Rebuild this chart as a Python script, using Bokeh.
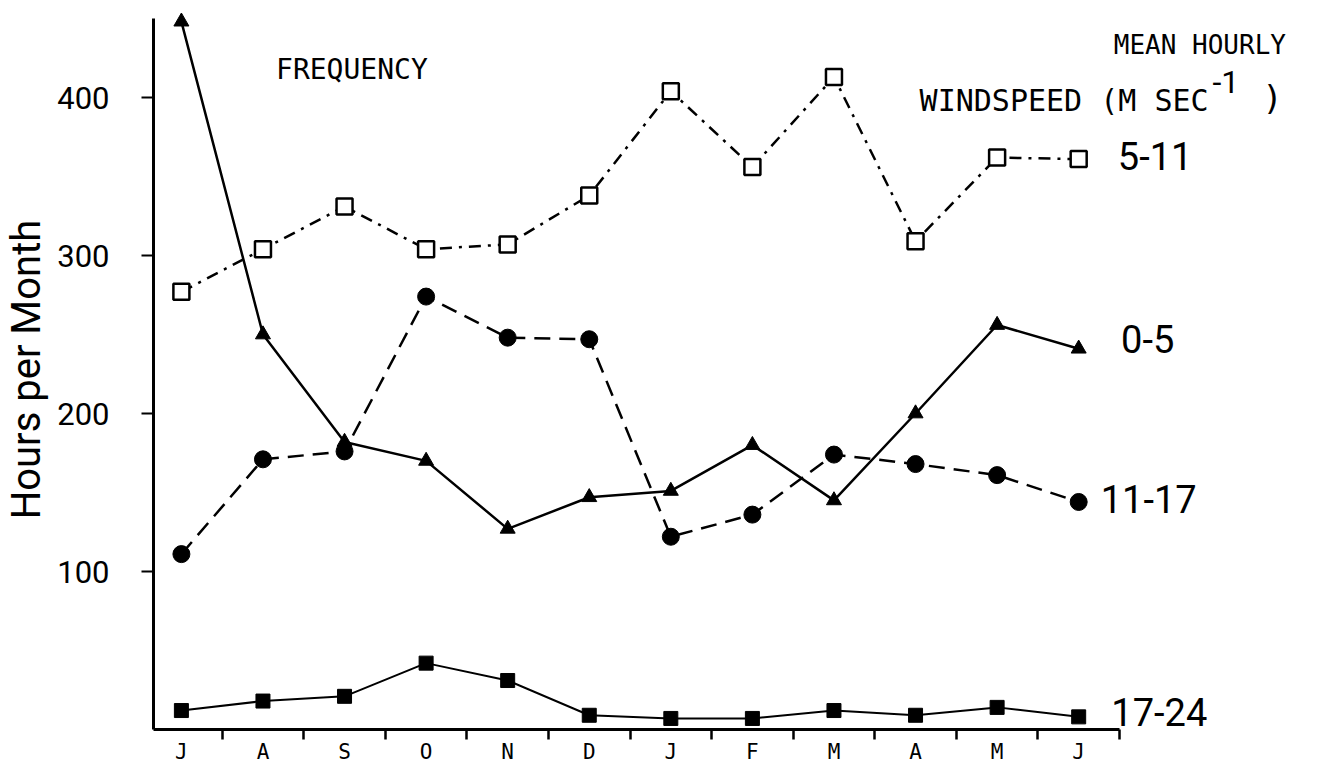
from bokeh.plotting import figure
from bokeh.models import FixedTicker, Range1d, Label
from bokeh.embed import file_html
from bokeh.resources import INLINE

# ---- data ----
months = ["J", "A", "S", "O", "N", "D", "J", "F", "M", "A", "M", "J"]
x_idx = list(range(len(months)))
speed_0_5 = [448, 250, 182, 170, 127, 147, 151, 180, 145, 200, 256, 241]
speed_5_11 = [277, 304, 331, 304, 307, 338, 404, 356, 413, 309, 362, 361]
speed_11_17 = [111, 171, 176, 274, 248, 247, 122, 136, 174, 168, 161, 144]
speed_17_24 = [12, 18, 21, 42, 31, 9, 7, 7, 12, 9, 14, 8]
y_ticks = [100, 200, 300, 400]
series_names = ["0-5", "5-11", "11-17", "17-24"]

NARROW = "Roboto"
MONO = "DejaVu Sans Mono"
X0 = -0.342

p = figure(width=1318, height=766, output_backend="svg", toolbar_location=None,
           x_range=Range1d(X0, 13.94), y_range=Range1d(0, 455.7),
           min_border_left=150, min_border_right=0, min_border_top=9, min_border_bottom=34)
p.outline_line_color = None
p.grid.visible = False
p.background_fill_color = "white"

# x axis: labels at month centres, ticks at month boundaries
xa = p.xaxis[0]
xa.ticker = FixedTicker(ticks=x_idx, minor_ticks=[i + 0.5 for i in x_idx])
xa.major_label_overrides = {i: m for i, m in enumerate(months)}
xa.major_tick_out = 0
xa.major_tick_in = 0
xa.minor_tick_out = 10
xa.minor_tick_in = 0
xa.minor_tick_line_width = 2.5
xa.axis_line_width = 3
xa.bounds = (X0, 11.5)
xa.major_label_text_font = MONO
xa.major_label_text_font_size = "21px"
xa.major_label_text_color = "black"
xa.major_label_standoff = 0

ya = p.yaxis[0]
ya.ticker = FixedTicker(ticks=y_ticks, minor_ticks=[])
ya.major_tick_out = 12
ya.major_tick_in = 0
ya.major_tick_line_width = 2
ya.axis_line_width = 3
ya.bounds = (0, 450)
ya.major_label_text_font = NARROW
ya.major_label_text_font_size = "31px"
ya.major_label_text_color = "black"
ya.major_label_standoff = 32
ya.axis_label = "Hours per Month"
ya.axis_label_text_font = NARROW
ya.axis_label_text_font_size = "40px"
ya.axis_label_text_font_style = "normal"
ya.axis_label_text_color = "black"
ya.axis_label_standoff = 4

LW = 2.5
# 5-11: open squares, dash-dot
p.line(x_idx, speed_5_11, line_color="black", line_width=LW, line_dash="12 7 3 7")
p.scatter(x_idx, speed_5_11, marker="square", size=16, fill_color="white",
          line_color="black", line_width=2.5)
# 11-17: filled circles, dashed
p.line(x_idx, speed_11_17, line_color="black", line_width=LW, line_dash="16 9")
p.scatter(x_idx, speed_11_17, marker="circle", size=17, fill_color="black", line_color="black")
# 0-5: filled triangles, solid
p.line(x_idx, speed_0_5, line_color="black", line_width=LW)
p.scatter(x_idx, speed_0_5, marker="triangle", size=15, fill_color="black", line_color="black")
# 17-24: filled squares, solid
p.line(x_idx, speed_17_24, line_color="black", line_width=2)
p.scatter(x_idx, speed_17_24, marker="square", size=14, fill_color="black", line_color="black")

# series labels next to the last point
last = len(months) - 1
label_offsets = {"0-5": (0.52, 6), "5-11": (0.48, 2), "11-17": (0.27, 2), "17-24": (0.4, 3)}
series_last = {"0-5": speed_0_5[last], "5-11": speed_5_11[last],
               "11-17": speed_11_17[last], "17-24": speed_17_24[last]}
for name in series_names:
    dx, dy = label_offsets[name]
    p.add_layout(Label(x=last + dx, y=series_last[name] + dy, text=name,
                       text_font=NARROW, text_font_size="38px", text_color="black",
                       text_baseline="middle", text_align="left"))

# annotation texts
p.add_layout(Label(x=1.16, y=418, text="FREQUENCY", text_font=MONO, text_font_size="28px",
                   text_color="black", text_baseline="middle"))
p.add_layout(Label(x=11.43, y=433, text="MEAN HOURLY", text_font=MONO, text_font_size="26px",
                   text_color="black", text_baseline="middle"))
p.add_layout(Label(x=9.05, y=398, text="WINDSPEED (M SEC", text_font=MONO, text_font_size="30px",
                   text_color="black", text_baseline="middle"))
p.add_layout(Label(x=12.64, y=410, text="-1", text_font=NARROW, text_font_size="32px",
                   text_color="black", text_baseline="middle"))
p.add_layout(Label(x=13.25, y=400, text=")", text_font=MONO, text_font_size="34px",
                   text_color="black", text_baseline="middle"))

open("out.html", "w").write(file_html(p, INLINE))
